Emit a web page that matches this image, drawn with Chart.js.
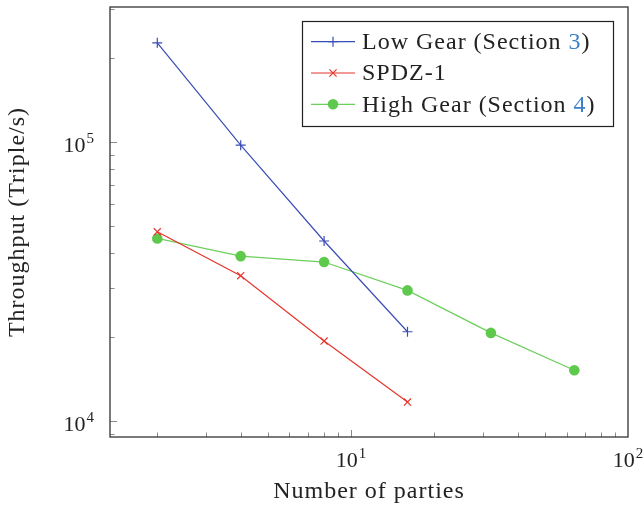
<!DOCTYPE html>
<html>
<head>
<meta charset="utf-8">
<script src="https://cdn.jsdelivr.net/npm/chart.js@4"></script>
<style>
  html, body { margin: 0; padding: 0; background: #fff; }
  #wrap { width: 644px; height: 509px; }
</style>
</head>
<body>
<div id="wrap"><canvas id="chart" width="644" height="509"></canvas></div>
<script>
// data (log-log)
const parties = [2, 4, 8, 16, 32, 64];
const lowGear = [227000, 97500, 44200, 20900];
const spdz = [47700, 33200, 19350, 11700];
const highGear = [45150, 39000, 37150, 29400, 20700, 15200];
const xTicks = [10, 100];
const yTicks = [1e4, 1e5];

const FONT = 'Liberation Serif';
const TEXT = '#222';
const LINK = '#3d7fc9';

const pts = (ys) => ys.map((v, i) => ({ x: parties[i], y: v }));

// frame, inward ticks, 10^n labels, boxed legend
const pgfLook = {
  id: 'pgfLook',
  beforeDraw(chart) {
    // widen the Times-like face a bit towards Computer Modern proportions
    chart.ctx.letterSpacing = '1px';
  },
  afterDraw(chart) {
    const { ctx, chartArea: a, scales: { x, y } } = chart;
    ctx.save();

    // minor/major ticks, inside the axes, left and bottom only
    ctx.strokeStyle = '#8a8a8a';
    ctx.lineWidth = 1;
    for (const d of [1, 10]) {
      for (let k = 1; k <= 9; k++) {
        const v = k * d;
        if (v < x.min || v > x.max) continue;
        const px = Math.round(x.getPixelForValue(v)) + 0.5;
        const len = k === 1 ? 7 : 4.5;
        ctx.beginPath(); ctx.moveTo(px, a.bottom); ctx.lineTo(px, a.bottom - len); ctx.stroke();
      }
    }
    for (const d of [1e3, 1e4, 1e5]) {
      for (let k = 1; k <= 9; k++) {
        const v = k * d;
        if (v < y.min || v > y.max) continue;
        const py = Math.round(y.getPixelForValue(v)) + 0.5;
        const len = k === 1 ? 7 : 4.5;
        ctx.beginPath(); ctx.moveTo(a.left, py); ctx.lineTo(a.left + len, py); ctx.stroke();
      }
    }

    // axis box
    ctx.strokeStyle = '#333';
    ctx.lineWidth = 1.3;
    ctx.strokeRect(a.left, a.top, a.right - a.left, a.bottom - a.top);

    // tick labels as 10 + superscript
    ctx.letterSpacing = '0px';
    const base = '22px "' + FONT + '"', sup = '15px "' + FONT + '"';
    const powLabel = (v, cx, baseline, align) => {
      const e = String(Math.round(Math.log10(v)));
      ctx.font = base; const w1 = ctx.measureText('10').width;
      ctx.font = sup; const w2 = ctx.measureText(e).width;
      const left = align === 'right' ? cx - w1 - w2 - 1 : cx - (w1 + w2 + 1) / 2;
      ctx.fillStyle = TEXT; ctx.textBaseline = 'alphabetic'; ctx.textAlign = 'left';
      ctx.font = base; ctx.fillText('10', left, baseline);
      ctx.font = sup; ctx.fillText(e, left + w1 + 1, baseline - 9);
    };
    xTicks.forEach(v => powLabel(v, x.getPixelForValue(v), a.bottom + 30, 'center'));
    yTicks.forEach(v => powLabel(v, a.left - 16, y.getPixelForValue(v) + 10, 'right'));

    // legend
    ctx.letterSpacing = '1px';
    const lx = 302, ly = 21, lw = 311, lh = 105, rowH = 31.3;
    ctx.fillStyle = '#fff';
    ctx.fillRect(lx, ly, lw, lh);
    ctx.strokeStyle = '#222'; ctx.lineWidth = 1.2;
    ctx.strokeRect(lx + 0.5, ly + 0.5, lw, lh);
    chart.data.datasets.forEach((ds, i) => {
      const cy = ly + 20.7 + i * rowH;
      ctx.strokeStyle = ds.borderColor; ctx.lineWidth = 1.2;
      ctx.beginPath(); ctx.moveTo(lx + 9, cy); ctx.lineTo(lx + 53, cy); ctx.stroke();
      const mx = lx + 31, r = ds.pointRadius;
      if (ds.pointStyle === 'circle') {
        ctx.fillStyle = ds.pointBackgroundColor;
        ctx.beginPath(); ctx.arc(mx, cy, r, 0, Math.PI * 2); ctx.fill();
      } else if (ds.pointStyle === 'cross') {
        ctx.beginPath();
        ctx.moveTo(mx - r, cy); ctx.lineTo(mx + r, cy);
        ctx.moveTo(mx, cy - r); ctx.lineTo(mx, cy + r); ctx.stroke();
      } else {
        const q = r * 0.72;
        ctx.beginPath();
        ctx.moveTo(mx - q, cy - q); ctx.lineTo(mx + q, cy + q);
        ctx.moveTo(mx - q, cy + q); ctx.lineTo(mx + q, cy - q); ctx.stroke();
      }
      ctx.font = '24px "' + FONT + '"'; ctx.textBaseline = 'middle'; ctx.textAlign = 'left';
      let tx = lx + 60;
      const parts = ds.label.match(/^(.*Section )(\d)(\))$/);
      const pieces = parts ? [[parts[1], TEXT], [parts[2], LINK], [parts[3], TEXT]] : [[ds.label, TEXT]];
      pieces.forEach(([s, c]) => {
        ctx.fillStyle = c; ctx.fillText(s, tx, cy + 1);
        tx += ctx.measureText(s).width;
      });
    });
    ctx.restore();
  }
};

new Chart(document.getElementById('chart'), {
  type: 'line',
  data: {
    datasets: [
      {
        label: 'Low Gear (Section 3)', data: pts(lowGear),
        borderColor: '#3a4db5', backgroundColor: '#3a4db5',
        pointStyle: 'cross', pointRadius: 5, pointBorderWidth: 1.2, pointBorderColor: '#3a4db5'
      },
      {
        label: 'SPDZ-1', data: pts(spdz),
        borderColor: '#e5352c', backgroundColor: '#e5352c',
        pointStyle: 'crossRot', pointRadius: 5, pointBorderWidth: 1.2, pointBorderColor: '#e5352c'
      },
      {
        label: 'High Gear (Section 4)', data: pts(highGear),
        borderColor: '#6ccf5c', backgroundColor: '#5fc94e',
        pointStyle: 'circle', pointRadius: 5.3, pointBorderWidth: 0,
        pointBackgroundColor: '#5fc94e'
      }
    ]
  },
  options: {
    animation: false,
    responsive: false,
    layout: { padding: { left: 0, right: 16, top: 7, bottom: 0 } },
    elements: { line: { tension: 0, borderWidth: 1.2, fill: false } },
    plugins: { legend: { display: false }, tooltip: { enabled: false } },
    scales: {
      x: {
        type: 'logarithmic', min: 1.35, max: 100,
        grid: { display: false }, border: { display: false },
        ticks: { display: false },
        title: { display: true, text: 'Number of parties', color: TEXT,
                 font: { family: FONT, size: 24 }, padding: { top: 4, bottom: 3 } },
        afterFit: s => { s.height = 72; }
      },
      y: {
        type: 'logarithmic', min: 8766, max: 305000,
        grid: { display: false }, border: { display: false },
        ticks: { display: false },
        title: { display: true, text: 'Throughput (Triple/s)', color: TEXT,
                 font: { family: FONT, size: 24 }, padding: { top: 3, bottom: 4 } },
        afterFit: s => { s.width = 110; }
      }
    }
  },
  plugins: [pgfLook]
});
</script>
</body>
</html>
